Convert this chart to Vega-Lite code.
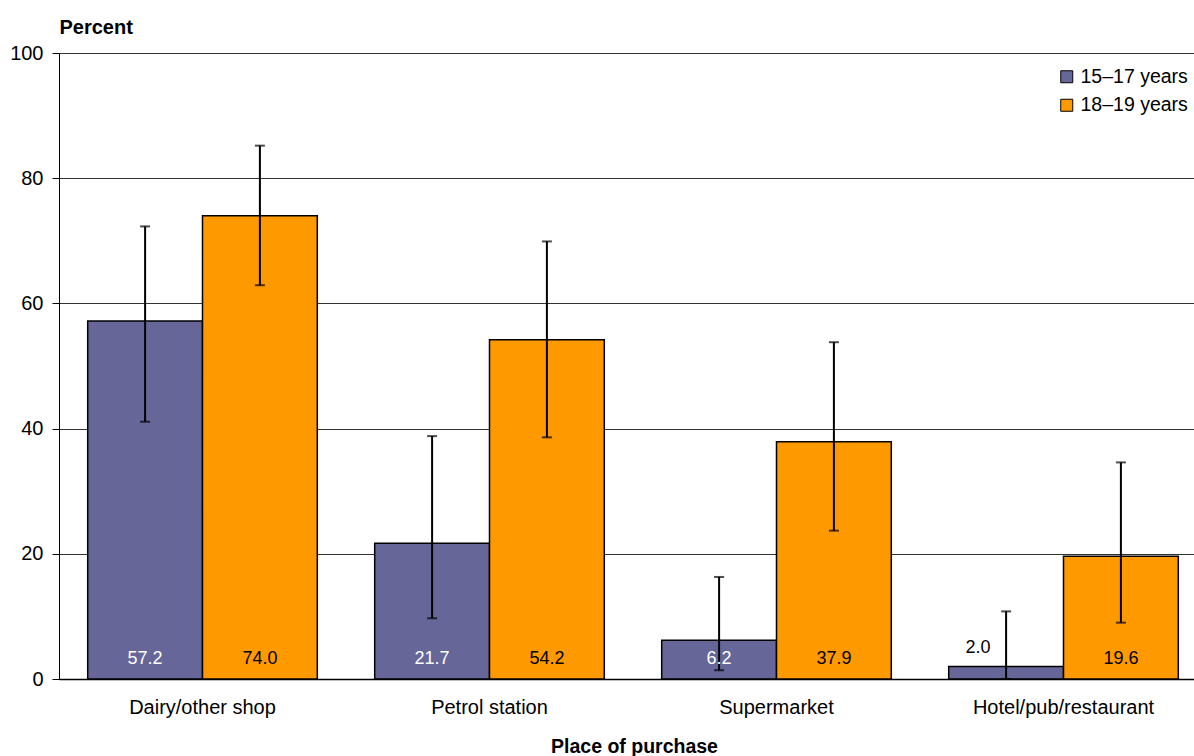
{
  "$schema": "https://vega.github.io/schema/vega-lite/v6.json",
  "width": 1134,
  "height": 626,
  "autosize": {"type": "none"},
  "padding": {"left": 59, "top": 53, "right": 1, "bottom": 77},
  "background": "white",
  "config": {
    "view": {"stroke": null},
    "font": "Liberation Sans",
    "axis": {"labelFont": "Liberation Sans", "titleFont": "Liberation Sans", "labelColor": "black", "titleColor": "black"}
  },
  "data": {
    "values": [
      {"place": "Dairy/other shop", "age": "15–17 years", "value": 57.2, "lo": 41.1, "hi": 72.3},
      {"place": "Dairy/other shop", "age": "18–19 years", "value": 74.0, "lo": 62.9, "hi": 85.2},
      {"place": "Petrol station", "age": "15–17 years", "value": 21.7, "lo": 9.7, "hi": 38.8},
      {"place": "Petrol station", "age": "18–19 years", "value": 54.2, "lo": 38.6, "hi": 69.9},
      {"place": "Supermarket", "age": "15–17 years", "value": 6.2, "lo": 1.4, "hi": 16.3},
      {"place": "Supermarket", "age": "18–19 years", "value": 37.9, "lo": 23.7, "hi": 53.8},
      {"place": "Hotel/pub/restaurant", "age": "15–17 years", "value": 2.0, "lo": 0, "hi": 10.8},
      {"place": "Hotel/pub/restaurant", "age": "18–19 years", "value": 19.6, "lo": 9.0, "hi": 34.6}
    ]
  },
  "encoding": {
    "x": {
      "field": "place", "type": "nominal", "sort": null,
      "scale": {"paddingInner": 0.2, "paddingOuter": 0.1, "range": [0, 1148]},
      "axis": {
        "title": "Place of purchase", "titleFontSize": 19.5, "titleFontWeight": "bold",
        "titleX": 575, "titleY": 67, "titleBaseline": "middle",
        "labelAngle": 0, "labelFontSize": 20, "labelPadding": 18, "ticks": false, "labelLimit": 400,
        "domainColor": "black", "domainWidth": 1.5
      }
    },
    "xOffset": {"field": "age", "type": "nominal", "scale": {"paddingInner": 0, "paddingOuter": 0}}
  },
  "layer": [
    {
      "mark": {"type": "bar", "stroke": "black", "strokeWidth": 1.5},
      "encoding": {
        "y": {
          "field": "value", "type": "quantitative",
          "scale": {"domain": [0, 100], "nice": false},
          "axis": {
            "values": [0, 20, 40, 60, 80, 100], "title": "Percent", "titleAngle": 0,
            "titleAlign": "left", "titleBaseline": "middle", "titleX": 0, "titleY": -26,
            "titleFontSize": 20, "titleFontWeight": "bold",
            "labelFontSize": 20, "tickSize": 7, "tickColor": "black", "labelPadding": 9,
            "domainColor": "black", "domainWidth": 1,
            "grid": true, "gridColor": "#333333", "gridWidth": 1
          }
        },
        "color": {
          "field": "age", "type": "nominal",
          "scale": {"domain": ["15–17 years", "18–19 years"], "range": ["#666699", "#FF9900"]},
          "legend": {
            "title": null, "orient": "none", "legendX": 998, "legendY": 14,
            "symbolType": "square", "symbolSize": 144, "symbolStrokeColor": "black",
            "symbolStrokeWidth": 1, "symbolOpacity": 1, "labelFontSize": 19.5, "labelFont": "Liberation Sans",
            "labelColor": "black", "labelOffset": 4, "rowPadding": 7.5, "padding": 0
          }
        }
      }
    },
    {
      "mark": {"type": "rule", "color": "black", "strokeWidth": 2},
      "encoding": {"y": {"field": "lo", "type": "quantitative"}, "y2": {"field": "hi"}}
    },
    {
      "mark": {"type": "tick", "color": "black", "thickness": 2, "size": 10, "orient": "horizontal"},
      "encoding": {"y": {"field": "lo", "type": "quantitative"}}
    },
    {
      "mark": {"type": "tick", "color": "black", "thickness": 2, "size": 10, "orient": "horizontal"},
      "encoding": {"y": {"field": "hi", "type": "quantitative"}}
    },
    {
      "transform": [{"filter": "datum.value >= 5"}],
      "mark": {"type": "text", "fontSize": 18, "baseline": "middle", "dy": -20, "font": "Liberation Sans"},
      "encoding": {
        "y": {"datum": 0, "type": "quantitative"},
        "text": {"field": "value", "type": "quantitative", "format": ".1f"},
        "color": {"condition": {"test": "datum.age == '15–17 years'", "value": "white"}, "value": "black"}
      }
    },
    {
      "transform": [{"filter": "datum.value < 5"}],
      "mark": {"type": "text", "fontSize": 18, "baseline": "middle", "dy": -18, "dx": -28, "color": "black", "font": "Liberation Sans"},
      "encoding": {
        "y": {"field": "value", "type": "quantitative"},
        "text": {"field": "value", "type": "quantitative", "format": ".1f"}
      }
    }
  ]
}
